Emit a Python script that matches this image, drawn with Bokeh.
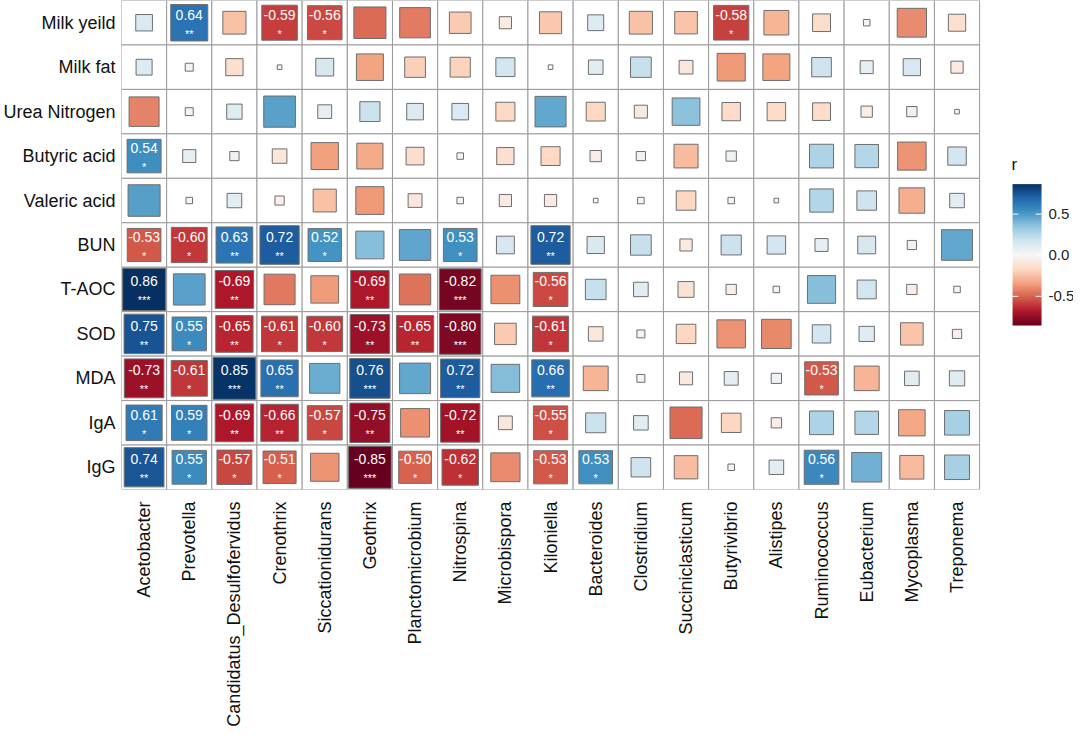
import numpy as np
from bokeh.plotting import figure
from bokeh.models import ColumnDataSource, LinearColorMapper, FixedTicker, Range1d
from bokeh.transform import transform
from bokeh.core.properties import value
from bokeh.embed import file_html
from bokeh.resources import INLINE

rows = ["Milk yeild", "Milk fat", "Urea Nitrogen", "Butyric acid", "Valeric acid",
        "BUN", "T-AOC", "SOD", "MDA", "IgA", "IgG"]
cols = ["Acetobacter", "Prevotella", "Candidatus_Desulfofervidus", "Crenothrix",
        "Siccationidurans", "Geothrix", "Planctomicrobium", "Nitrospina", "Microbispora",
        "Kiloniella", "Bacteroides", "Clostridium", "Succiniclasticum", "Butyrivibrio",
        "Alistipes", "Ruminococcus", "Eubacterium", "Mycoplasma", "Treponema"]

milk_yield = [0.13, 0.64, -0.25, -0.59, -0.56, -0.48, -0.44, -0.22, -0.07, -0.23, 0.12, -0.25, -0.24, -0.58, -0.29, -0.15, 0.02, -0.40, -0.14]
milk_fat = [0.12, 0.03, -0.14, -0.01, 0.15, -0.34, -0.20, -0.19, 0.17, 0.01, 0.10, 0.20, -0.09, -0.37, -0.34, 0.18, 0.08, 0.14, -0.07]
urea_n = [-0.42, -0.03, 0.11, 0.47, 0.09, 0.19, 0.13, 0.13, -0.17, 0.45, -0.17, -0.08, 0.36, -0.16, -0.16, -0.15, -0.06, -0.05, -0.01]
butyric = [0.54, 0.08, 0.04, -0.10, -0.35, -0.32, -0.15, 0.02, -0.14, -0.17, -0.06, 0.04, -0.27, 0.05, 0.0, 0.27, 0.26, -0.38, 0.16]
valeric = [0.48, 0.02, 0.10, -0.04, -0.25, -0.37, -0.09, 0.02, -0.07, -0.07, 0.01, 0.02, -0.18, 0.02, 0.01, 0.26, 0.18, -0.31, 0.10]
bun = [-0.53, -0.60, 0.63, 0.72, 0.52, 0.37, 0.46, 0.53, 0.15, 0.72, 0.14, 0.20, -0.07, 0.19, 0.16, 0.08, 0.15, 0.04, 0.45]
taoc = [0.86, 0.47, -0.69, -0.45, -0.36, -0.69, -0.46, -0.82, -0.39, -0.56, 0.20, 0.10, -0.12, -0.05, 0.02, 0.37, 0.17, -0.05, 0.02]
sod = [0.75, 0.55, -0.65, -0.61, -0.60, -0.73, -0.65, -0.80, -0.22, -0.61, -0.10, 0.03, -0.18, -0.38, -0.41, 0.16, 0.11, -0.24, -0.04]
mda = [-0.73, -0.61, 0.85, 0.65, 0.43, 0.76, 0.45, 0.72, 0.38, 0.66, -0.29, -0.03, -0.08, 0.09, 0.05, -0.53, -0.29, 0.10, 0.11]
iga = [0.61, 0.59, -0.69, -0.66, -0.57, -0.75, -0.39, -0.72, -0.09, -0.55, 0.19, 0.10, -0.48, -0.18, -0.05, 0.27, 0.26, -0.33, 0.29]
igg = [0.74, 0.55, -0.57, -0.51, -0.38, -0.85, -0.50, -0.62, -0.40, -0.53, 0.53, 0.18, -0.26, 0.02, 0.10, 0.56, 0.42, -0.27, 0.29]

values = [milk_yield, milk_fat, urea_n, butyric, valeric, bun, taoc, sod, mda, iga, igg]

# significance stars: row index -> {column index: stars}
stars = {
    0: {1: "**", 3: "*", 4: "*", 13: "*"},
    3: {0: "*"},
    5: {0: "*", 1: "*", 2: "**", 3: "**", 4: "*", 7: "*", 9: "**"},
    6: {0: "***", 2: "**", 5: "**", 7: "***", 9: "*"},
    7: {0: "**", 1: "*", 2: "**", 3: "*", 4: "*", 5: "**", 6: "**", 7: "***", 9: "*"},
    8: {0: "**", 1: "*", 2: "***", 3: "**", 5: "***", 7: "**", 9: "**", 15: "*"},
    9: {0: "*", 1: "*", 2: "**", 3: "**", 4: "*", 5: "**", 7: "**", 9: "*"},
    10: {0: "**", 1: "*", 2: "*", 3: "*", 5: "***", 6: "*", 7: "*", 9: "*", 10: "*", 15: "*"},
}

legend_ticks = [-0.5, 0.0, 0.5]
legend_tick_labels = ["-0.5", "0.0", "0.5"]
R_LOW, R_HIGH = -0.855, 0.865

nrow, ncol = len(rows), len(cols)
RMAX = 0.86

# ---- layout constants (pixels) ----
W, H = 1073, 729
LEFT, TOP, FRAME_H = 120, 0, 498
FRAME_W = W - LEFT
CELL_X = 859 / ncol
CELL_Y = FRAME_H / nrow
X_END = FRAME_W / CELL_X

def px_to_x(px):   # px measured from frame left
    return px / CELL_X

def px_to_y(py):   # py measured from frame top
    return (FRAME_H - py) / CELL_Y

xs, ys, rs, sides = [], [], [], []
lx, ly, ltext, lstar = [], [], [], []
for i, rowvals in enumerate(values):
    for j, r in enumerate(rowvals):
        x = j + 0.5
        y = nrow - i - 0.5
        xs.append(x); ys.append(y); rs.append(r)
        sides.append(0.95 * np.sqrt(abs(r) / RMAX))
        st = stars.get(i, {}).get(j, "")
        if st:
            lx.append(x); ly.append(y)
            ltext.append(f"{r:.2f}"); lstar.append(st)

sq = ColumnDataSource(dict(x=xs, y=ys, r=rs, s=sides))
lab = ColumnDataSource(dict(x=lx, y=ly, t=ltext, st=lstar))

anchors = ['#67001f', '#b2182b', '#d6604d', '#f4a582', '#fddbc7', '#f7f7f7',
           '#d1e5f0', '#92c5de', '#4393c3', '#2166ac', '#053061']
arr = np.array([[int(c[k:k + 2], 16) for k in (1, 3, 5)] for c in anchors], dtype=float)
pos = np.linspace(0, 1, len(anchors))
tt = np.linspace(0, 1, 256)
pal = []
for t in tt:
    rgb = [np.interp(t, pos, arr[:, k]) for k in range(3)]
    pal.append("#%02x%02x%02x" % tuple(int(round(v)) for v in rgb))

mapper = LinearColorMapper(palette=pal, low=R_LOW, high=R_HIGH)

p = figure(width=W, height=H, x_range=Range1d(0, X_END), y_range=Range1d(0, nrow),
           output_backend="svg", toolbar_location=None,
           min_border_left=LEFT, min_border_right=0, min_border_top=TOP,
           min_border_bottom=H - FRAME_H - TOP)
p.background_fill_color = "white"
p.border_fill_color = "white"
p.outline_line_color = None
p.grid.grid_line_color = None

p.xaxis.ticker = FixedTicker(ticks=[j + 0.5 for j in range(ncol)])
p.xaxis.major_label_overrides = {j + 0.5: c for j, c in enumerate(cols)}
p.yaxis.ticker = FixedTicker(ticks=[nrow - i - 0.5 for i in range(nrow)])
p.yaxis.major_label_overrides = {nrow - i - 0.5: r for i, r in enumerate(rows)}
for ax in (p.xaxis, p.yaxis):
    ax.axis_line_color = None
    ax.major_tick_line_color = None
    ax.minor_tick_line_color = None
    ax.major_label_text_font = "Liberation Sans"
    ax.major_label_text_color = "#111111"
    ax.major_label_text_font_size = "18px"
p.xaxis.major_label_orientation = np.pi / 2
p.xaxis.major_label_standoff = 6
p.yaxis.major_label_standoff = 0

# background cells with grey borders
p.rect(x="x", y="y", width=1, height=1, source=sq,
       fill_color="white", line_color="#9a9a9a", line_width=1)

p.rect(x="x", y="y", width="s", height="s", source=sq,
       fill_color=transform("r", mapper), line_color="#6e6e6e", line_width=1)

p.text(x="x", y="y", text="t", source=lab, text_color="white",
       text_font=value("Liberation Sans"), text_font_size="14px",
       text_align="center", text_baseline="middle", y_offset=-8)
p.text(x="x", y="y", text="st", source=lab, text_color="white",
       text_font=value("Liberation Sans"), text_font_size="11px",
       text_align="center", text_baseline="middle", y_offset=11)

# ---- colour bar legend drawn as glyphs ----
bar_x0, bar_x1 = px_to_x(892), px_to_x(921)
bar_ybot, bar_ytop = px_to_y(331), px_to_y(187)
def r_to_y(v):
    return bar_ybot + (v - R_LOW) / (R_HIGH - R_LOW) * (bar_ytop - bar_ybot)

ramp = np.linspace(R_LOW, R_HIGH, 256).reshape(256, 1)
p.image(image=[ramp], x=bar_x0, y=bar_ybot, dw=bar_x1 - bar_x0, dh=bar_ytop - bar_ybot,
        color_mapper=mapper)

tick_y = [r_to_y(v) for v in legend_ticks]
tw = (bar_x1 - bar_x0) * 0.2
p.segment(x0=[bar_x0] * 3, x1=[bar_x0 + tw] * 3, y0=tick_y, y1=tick_y,
          line_color="white", line_width=1)
p.segment(x0=[bar_x1 - tw] * 3, x1=[bar_x1] * 3, y0=tick_y, y1=tick_y,
          line_color="white", line_width=1)
p.text(x=[px_to_x(928)] * 3, y=tick_y, text=legend_tick_labels,
       text_font=value("Liberation Sans"), text_font_size="15px", text_color="#222222",
       text_align="left", text_baseline="middle")
p.text(x=[px_to_x(891)], y=[px_to_y(177)], text=["r"],
       text_font=value("Liberation Sans"), text_font_size="17px", text_color="#111111",
       text_align="left", text_baseline="bottom")

open("out.html", "w").write(file_html(p, INLINE))
